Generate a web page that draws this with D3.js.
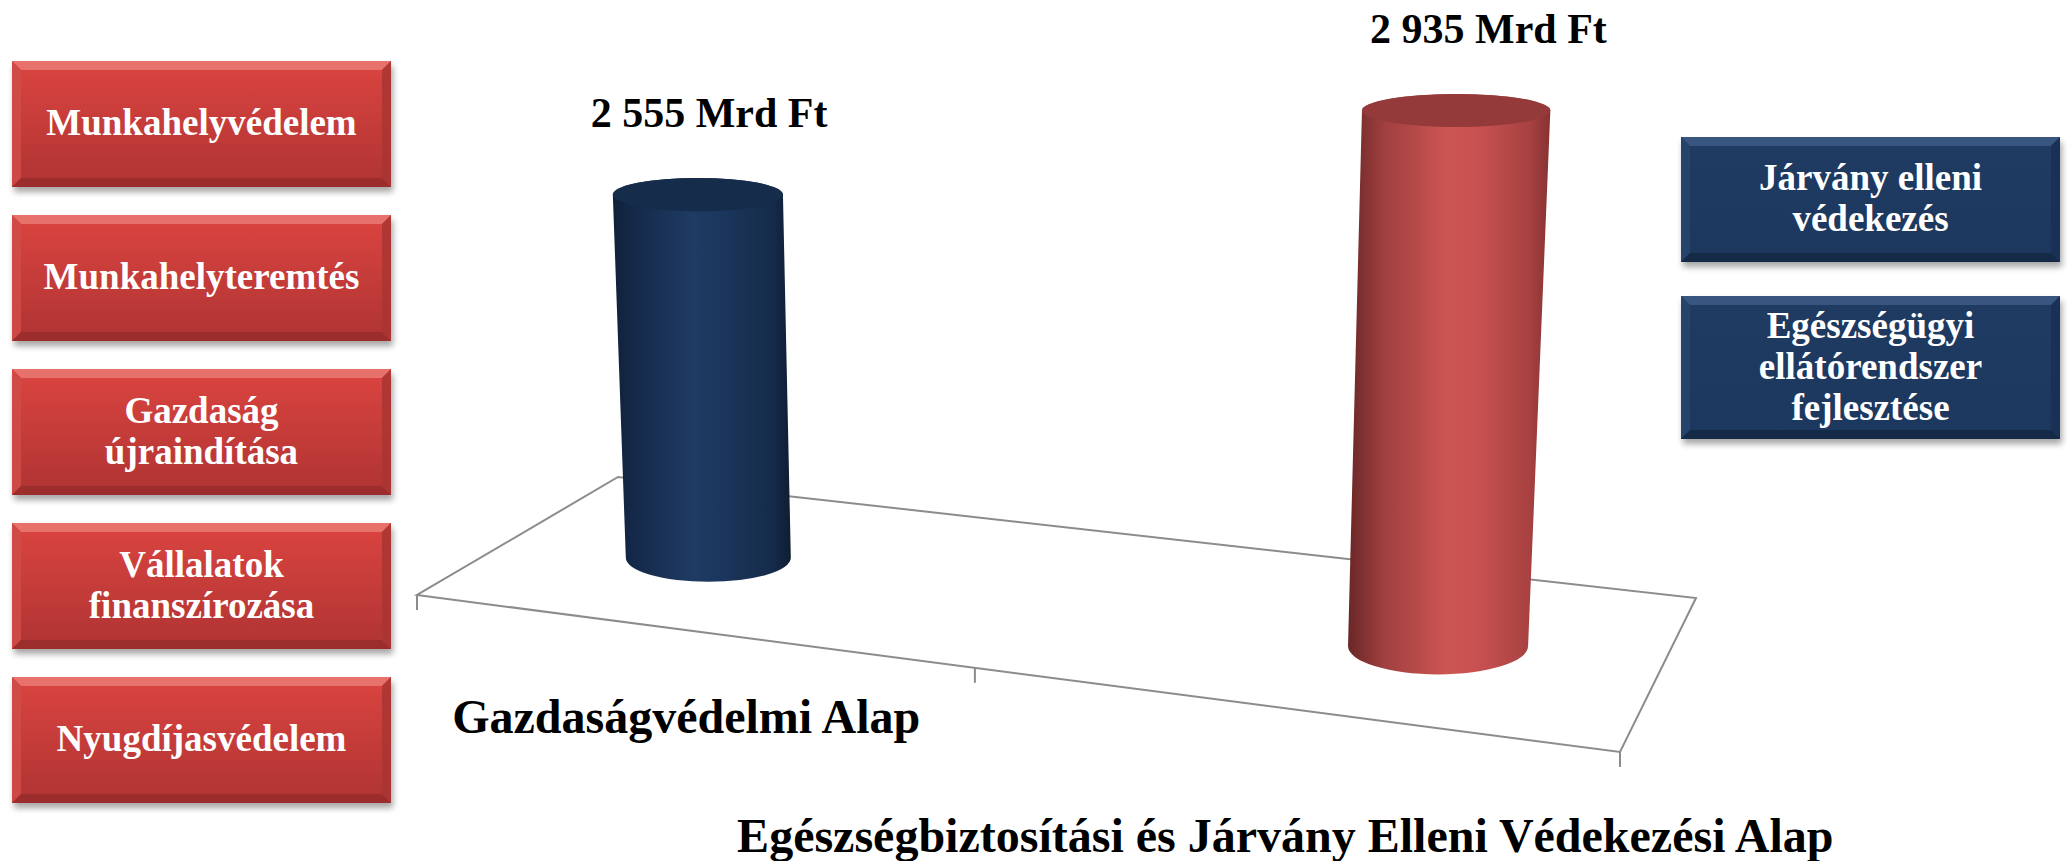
<!DOCTYPE html>
<html>
<head>
<meta charset="utf-8">
<script src="https://cdn.jsdelivr.net/npm/d3@7"></script>
<style>
  body { margin: 0; background: #fff; }
  svg { display: block; }
  text { font-family: "Liberation Serif", "Times New Roman", serif; font-weight: bold; }
</style>
</head>
<body>
<div id="chart"></div>
<script>
/*
 *  DATA
 */
var categories = ["Gazdaságvédelmi Alap", "Egészségbiztosítási és Járvány Elleni Védekezési Alap"];
var values = [2555, 2935];
var value_labels = ["2 555 Mrd Ft", "2 935 Mrd Ft"];
var left_items = [["Munkahelyvédelem"], ["Munkahelyteremtés"], ["Gazdaság", "újraindítása"],
                  ["Vállalatok", "finanszírozása"], ["Nyugdíjasvédelem"]];
var right_items = [["Járvány elleni", "védekezés"], ["Egészségügyi", "ellátórendszer", "fejlesztése"]];

/*
 *  LAYOUT
 */
var W = 2069, H = 861;
// floor of the 3d plot: front-left, front-right, back-right, back-left
var corners = [[417, 595], [1620, 752], [1696, 598], [618, 477]];
var vanish = [1045, 12275];   // where the vertical edges meet
var depth = 0.48, R0 = 85.4;

var themes = [
    {body: [["0%", "#0f2039"], ["12%", "#15294a"], ["45%", "#1e3b63"], ["62%", "#1b365c"], ["90%", "#152b4a"], ["100%", "#0e1d33"]],
     top: "#162c4b",
     face: ["#1f3b62", "#1d385e"], bevel: ["#3e5c87", "#28456e", "#132842", "#183052"]},
    {body: [["0%", "#6a2727"], ["18%", "#a13f3f"], ["50%", "#cd5654"], ["66%", "#c65050"], ["90%", "#a84141"], ["100%", "#863232"]],
     top: "#943a3a",
     face: ["#d8433f", "#b23534"], bevel: ["#ea7a73", "#d04c48", "#962c2b", "#a93533"]}
];

var svg = d3.select('#chart')
    .append('svg')
        .attr('width', W)
        .attr('height', H);
var defs = svg.append('defs');

themes.forEach(function(t, i) {
    var grad = defs.append('linearGradient')
        .attr('id', 'body' + i)
        .attr('x1', '0%').attr('x2', '100%').attr('y1', '0%').attr('y2', '0%');
    t.body.forEach(function(s) {
        grad.append('stop').attr('offset', s[0]).attr('stop-color', s[1]);
    });
    var face = defs.append('linearGradient')
        .attr('id', 'face' + i)
        .attr('x1', '0%').attr('x2', '0%').attr('y1', '0%').attr('y2', '100%');
    face.append('stop').attr('offset', '0%').attr('stop-color', t.face[0]);
    face.append('stop').attr('offset', '100%').attr('stop-color', t.face[1]);
});

defs.append('filter')
    .attr('id', 'shadow')
    .attr('x', '-10%').attr('y', '-10%').attr('width', '120%').attr('height', '140%')
  .append('feGaussianBlur')
    .attr('stdDeviation', 3);

// projective map of the unit square onto the floor quad
function makeProjection(p) {
    var x0 = p[0][0], y0 = p[0][1], x1 = p[1][0], y1 = p[1][1];
    var x2 = p[2][0], y2 = p[2][1], x3 = p[3][0], y3 = p[3][1];
    var dx1 = x1 - x2, dy1 = y1 - y2, dx2 = x3 - x2, dy2 = y3 - y2;
    var dx3 = x0 - x1 + x2 - x3, dy3 = y0 - y1 + y2 - y3;
    var den = dx1 * dy2 - dx2 * dy1;
    var g = (dx3 * dy2 - dx2 * dy3) / den;
    var h = (dx1 * dy3 - dx3 * dy1) / den;
    var a = x1 - x0 + g * x1, b = x3 - x0 + h * x3;
    var d = y1 - y0 + g * y1, e = y3 - y0 + h * y3;
    return function(u, v) {
        var w = g * u + h * v + 1;
        return [(a * u + b * v + x0) / w, (d * u + e * v + y0) / w, 1 / w];
    };
}
var proj = makeProjection(corners);

var u_band = d3.scaleBand().domain(categories).range([0, 1]);
var u_pos = d3.scalePoint().domain(categories).range([0.006, 1.006]).padding(0.28);
var y_scale = d3.scaleLinear().domain([1474, d3.max(values)]).range([0, 508]);

function ell_ratio(y) { return 0.175 + 0.00026 * (y - 110); }

/*
 *  FLOOR
 */
var floor = svg.append('g')
    .attr('fill', 'none')
    .attr('stroke', '#8c8c8c')
    .attr('stroke-width', 2);

var floor_pts = [[0, 0], [1, 0], [1, 1], [0, 1]].map(function(c) { return proj(c[0], c[1]); });
floor.append('path')
    .attr('d', d3.line()(floor_pts.map(function(p) { return [p[0], p[1]]; })) + 'Z');

var ticks = categories.map(function(c) { return u_band(c); }).concat([1]);
floor.selectAll('line.tick')
    .data(ticks)
    .enter().append('line')
        .attr('class', 'tick')
        .attr('x1', function(d) { return proj(d, 0)[0]; })
        .attr('x2', function(d) { return proj(d, 0)[0]; })
        .attr('y1', function(d) { return proj(d, 0)[1]; })
        .attr('y2', function(d) { return proj(d, 0)[1] + 15; });

/*
 *  CYLINDERS
 */
var cyl = categories.map(function(cat, i) {
    var u = u_pos(cat);
    var b = proj(u, depth);
    var bx = b[0], by = b[1], brx = R0 * b[2];
    var hpx = y_scale(values[i]) * b[2];
    var ty = by - hpx;
    var tx = bx - hpx * (vanish[0] - bx) / (vanish[1] - by);
    var trx = brx * (vanish[1] - ty) / (vanish[1] - by);
    return {i: i, u: u, bx: bx, by: by, brx: brx, bry: brx * ell_ratio(by),
            tx: tx, ty: ty, trx: trx, try_: trx * ell_ratio(ty)};
});

var bars = svg.selectAll('g.bar')
    .data(cyl)
    .enter().append('g')
        .attr('class', 'bar');

bars.append('path')
    .attr('fill', function(d) { return 'url(#body' + d.i + ')'; })
    .attr('d', function(d) {
        return 'M' + (d.tx - d.trx) + ',' + d.ty +
            'L' + (d.bx - d.brx) + ',' + d.by +
            'A' + d.brx + ',' + d.bry + ' 0 0 0 ' + (d.bx + d.brx) + ',' + d.by +
            'L' + (d.tx + d.trx) + ',' + d.ty +
            'A' + d.trx + ',' + d.try_ + ' 0 0 0 ' + (d.tx - d.trx) + ',' + d.ty + 'Z';
    });

bars.append('ellipse')
    .attr('cx', function(d) { return d.tx; })
    .attr('cy', function(d) { return d.ty; })
    .attr('rx', function(d) { return d.trx; })
    .attr('ry', function(d) { return d.try_; })
    .attr('fill', function(d) { return themes[d.i].top; });

bars.append('text')
    .attr('x', function(d) { return d.tx + d.trx * (0.07 + 0.33 * d.u); })
    .attr('y', function(d) { return d.ty - d.try_ - 51; })
    .attr('text-anchor', 'middle')
    .attr('font-size', 42)
    .attr('fill', '#000')
    .text(function(d) { return value_labels[d.i]; });

/*
 *  CATEGORY LABELS (staggered rows)
 */
var label_row_y = [733, 852];
svg.selectAll('text.cat')
    .data(categories)
    .enter().append('text')
        .attr('class', 'cat')
        .attr('x', function(d) { return proj(u_band(d) + u_band.bandwidth() / 2, 0)[0]; })
        .attr('y', function(d, i) { return label_row_y[i % 2]; })
        .attr('text-anchor', 'middle')
        .attr('font-size', 48)
        .attr('fill', '#000')
        .text(function(d) { return d; });

/*
 *  SIDE BOXES
 */
function draw_box(x, y, w, h, lines, t) {
    var bv = 9;
    var g = svg.append('g');
    g.append('rect')
        .attr('x', x + 2).attr('y', y + 5).attr('width', w).attr('height', h)
        .attr('fill', '#000').attr('opacity', 0.35)
        .attr('filter', 'url(#shadow)');
    g.append('rect')
        .attr('x', x).attr('y', y).attr('width', w).attr('height', h)
        .attr('fill', 'url(#face' + t + ')');
    var o = [[x, y], [x + w, y], [x + w, y + h], [x, y + h]];
    var n = [[x + bv, y + bv], [x + w - bv, y + bv], [x + w - bv, y + h - bv], [x + bv, y + h - bv]];
    var facets = [[o[0], o[1], n[1], n[0]], [o[3], o[0], n[0], n[3]], [o[2], o[3], n[3], n[2]], [o[1], o[2], n[2], n[1]]];
    var cols = themes[t].bevel;
    g.selectAll('path.facet')
        .data(facets)
        .enter().append('path')
            .attr('class', 'facet')
            .attr('d', function(d) { return d3.line()(d) + 'Z'; })
            .attr('fill', function(d, k) { return cols[k]; })
            .attr('opacity', 0.85);
    g.append('rect')
        .attr('x', n[0][0]).attr('y', n[0][1]).attr('width', w - 2 * bv).attr('height', h - 2 * bv)
        .attr('fill', 'url(#face' + t + ')');
    var lh = 41, cy = y + h / 2;
    g.selectAll('text')
        .data(lines)
        .enter().append('text')
            .attr('x', x + w / 2)
            .attr('y', function(d, k) { return cy + (k - (lines.length - 1) / 2) * lh + 11; })
            .attr('text-anchor', 'middle')
            .attr('font-size', 37)
            .attr('fill', '#fff')
            .text(function(d) { return d; });
}

left_items.forEach(function(lines, i) {
    draw_box(12, 61 + i * 154, 379, 126, lines, 1);
});

var ry = 137;
right_items.forEach(function(lines) {
    var h = lines.length > 2 ? 143 : 125;
    draw_box(1681, ry, 379, h, lines, 0);
    ry += h + 34;
});
</script>
</body>
</html>
